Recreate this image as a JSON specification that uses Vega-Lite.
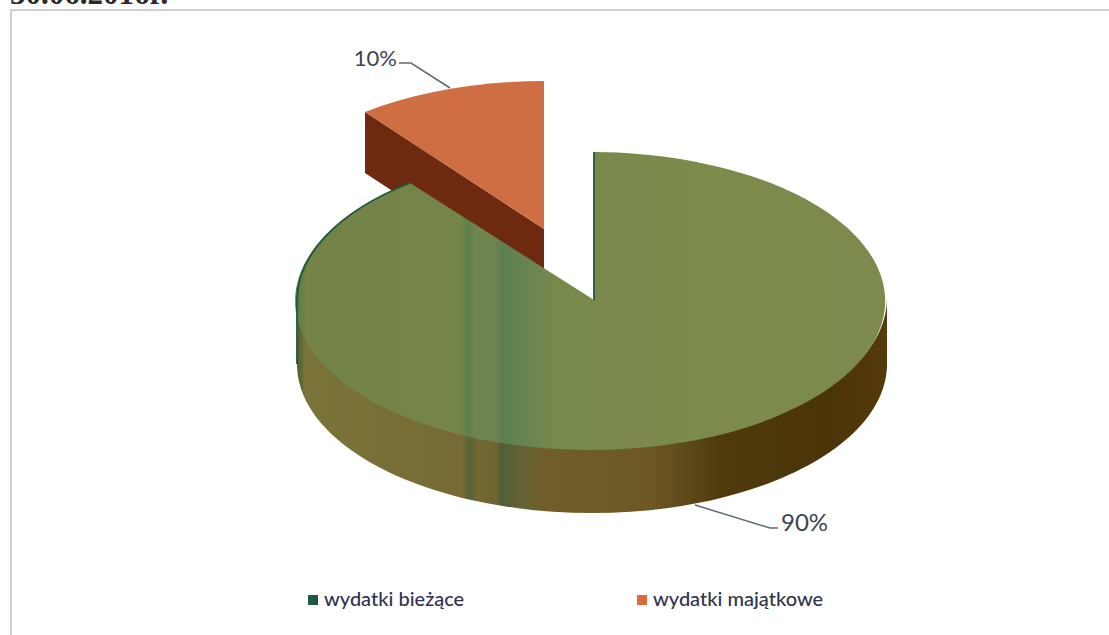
{
"$schema":"https://vega.github.io/schema/vega-lite/v6.json",
"width":1109,"height":635,"padding":0,"autosize":{"type":"none"},
"background":"white",
"view":{"stroke":null},
"data":{"values":[
{"kategoria":"wydatki bieżące","udzial":0.9},
{"kategoria":"wydatki majątkowe","udzial":0.1}
]},
"encoding":{
  "color":{"field":"kategoria","type":"nominal","scale":{"domain":["wydatki bieżące","wydatki majątkowe"],"range":["#1b5a40","#d96c3a"]},
   "legend":{"orient":"none","legendX":303,"legendY":590,"direction":"horizontal","columns":2,"title":null,"symbolType":"square","symbolSize":100,"symbolOpacity":1,"labelFont":"Lato","labelFontSize":20,"labelFontWeight":500,"labelColor":"#2f3350","columnPadding":167,"labelLimit":300,"labelOffset":1}}
},
"layer":[
{"transform":[{"filter":"datum.kategoria==='wydatki majątkowe'"}],
 "mark":{"type":"point","shape":"M-189.5 -205.5 L-10.5 -88.5 L-10.5 -27.5 L-189.5 -144.5 Z","size":4,"filled":true,"opacity":1,"fill":"#6e2a10"}},
{"transform":[{"filter":"datum.kategoria==='wydatki majątkowe'"}],
 "mark":{"type":"point","shape":"M-10.5 -88.5 L-10.5 -236.5 A295 149 0 0 0 -189.5 -205.5 Z","size":4,"filled":true,"opacity":1,"fill":"#cf6e42"}},
{"transform":[{"filter":"datum.kategoria==='wydatki bieżące'"}],
 "mark":{"type":"point","shape":"M-257.5 -19.5 A295 149 0 0 0 332.5 -19.5 L332.5 46.5 A295 149 0 0 1 -257.5 46.5 Z","size":4,"filled":true,"opacity":1,"fill":{"gradient":"linear","x1":0,"x2":1,"y1":0,"y2":0,"stops":[{"offset":0,"color":"#4a5f2e"},{"offset":0.015,"color":"#7a7438"},{"offset":0.28,"color":"#776a34"},{"offset":0.293,"color":"#566238"},{"offset":0.305,"color":"#746833"},{"offset":0.34,"color":"#6e6430"},{"offset":0.345,"color":"#4f5f38"},{"offset":0.38,"color":"#646234"},{"offset":0.42,"color":"#705e28"},{"offset":0.6,"color":"#6d5824"},{"offset":0.72,"color":"#4f3a0e"},{"offset":0.9,"color":"#4a3408"},{"offset":1,"color":"#553a0a"}]}}},
{"transform":[{"filter":"datum.kategoria==='wydatki bieżące'"}],
 "mark":{"type":"point","shape":"M39.5 -17.5 L39.5 -165.5 A295 149 0 1 1 -144.5 -134.5 Z","size":4,"filled":true,"opacity":1,"fill":{"gradient":"linear","x1":0,"x2":1,"y1":0,"y2":0,"stops":[{"offset":0,"color":"#5a7a48"},{"offset":0.02,"color":"#748347"},{"offset":0.28,"color":"#74854b"},{"offset":0.293,"color":"#5f7f50"},{"offset":0.305,"color":"#70854e"},{"offset":0.34,"color":"#6d844e"},{"offset":0.35,"color":"#5c7f52"},{"offset":0.39,"color":"#688350"},{"offset":0.44,"color":"#78894d"},{"offset":0.7,"color":"#7c8a4a"},{"offset":1,"color":"#7d8a4e"}]}}},
{"mark":{"type":"text","text":"30.06.2016r.","font":"Liberation Serif","fontWeight":"bold","fontSize":31,"align":"left","baseline":"alphabetic","dx":-544.5,"dy":-313.5},"encoding":{"color":{"value":"#2a2a2a"}},"transform":[{"filter":"datum.kategoria==='wydatki bieżące'"}]},
{"mark":{"type":"point","shape":"M554.5 -307.5 L-543.5 -307.5 L-543.5 317.5","size":4,"filled":false,"opacity":1},"encoding":{"color":{"value":"#cfd0d4"}},"transform":[{"filter":"datum.kategoria==='wydatki bieżące'"}]},
{"mark":{"type":"point","shape":"M39.5 -17.5 L39.5 -165.5 M-144.5 -134.5 A295 149 0 0 0 -257.5 -16.5 L-257.5 46.5","size":4,"filled":false,"strokeWidth":1.8,"opacity":1},"encoding":{"color":{"value":"#1f5a3c"}},"transform":[{"filter":"datum.kategoria==='wydatki bieżące'"}]},
{"mark":{"type":"point","shape":"M-155.5 -254.5 L-143.5 -254.5 L-104.5 -229.5","size":4,"filled":false,"strokeWidth":1.5,"opacity":1},"encoding":{"color":{"value":"#5f6a70"}},"transform":[{"filter":"datum.kategoria==='wydatki majątkowe'"}]},
{"mark":{"type":"point","shape":"M140.5 187.5 L215.5 210.5 L223.5 210.5","size":4,"filled":false,"strokeWidth":1.5,"opacity":1},"encoding":{"color":{"value":"#5f6a70"}},"transform":[{"filter":"datum.kategoria==='wydatki bieżące'"}]},
{"transform":[{"filter":"datum.kategoria==='wydatki majątkowe'"}],
 "mark":{"type":"text","font":"Lato","fontSize":22,"align":"right","baseline":"middle","dx":-157.5,"dy":-259},
 "encoding":{"color":{"value":"#3d4450"},"text":{"field":"udzial","type":"quantitative","format":".0%"}}},
{"transform":[{"filter":"datum.kategoria==='wydatki bieżące'"}],
 "mark":{"type":"text","font":"Lato","fontSize":24,"align":"left","baseline":"middle","dx":226.5,"dy":206.5},
 "encoding":{"color":{"value":"#3d4450"},"text":{"field":"udzial","type":"quantitative","format":".0%"}}}
]
}
